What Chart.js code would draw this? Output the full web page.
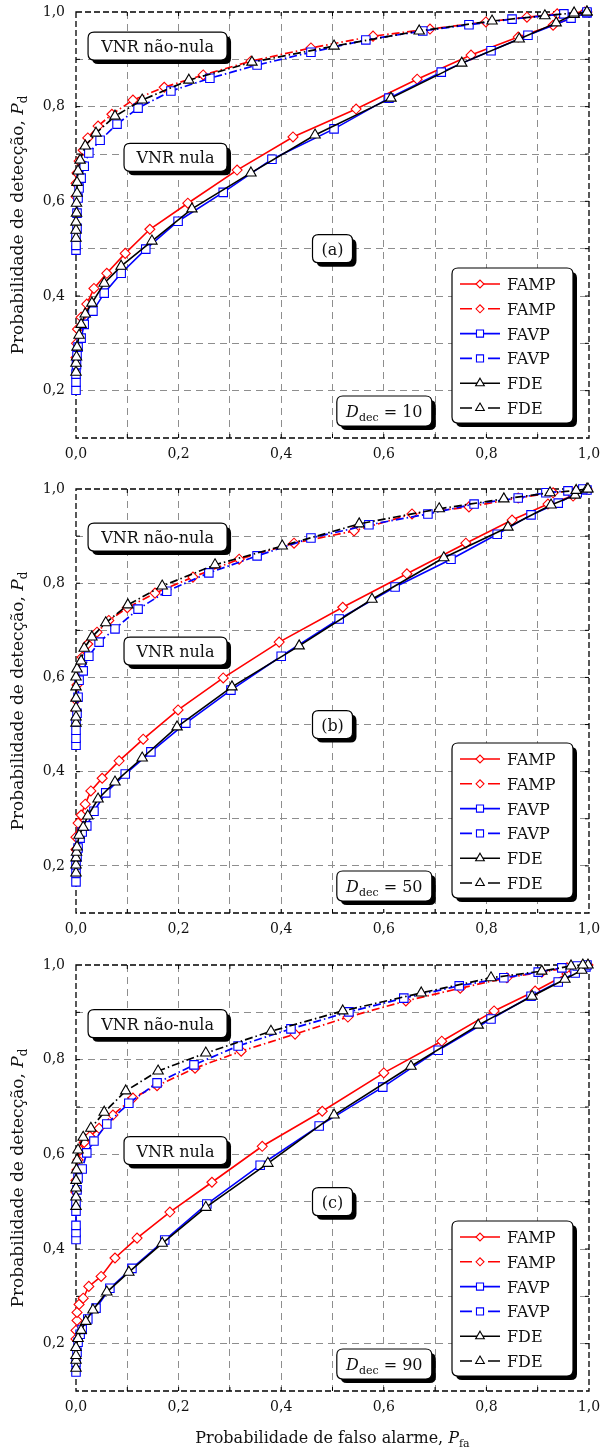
<!DOCTYPE html>
<html>
<head>
<meta charset="utf-8">
<script src="https://cdn.jsdelivr.net/npm/chart.js@4.4.0/dist/chart.umd.min.js"></script>
<style>
  html, body { margin: 0; padding: 0; background: #fff; }
  #wrap { position: relative; width: 602px; height: 1449px; }
  #wrap canvas { position: absolute; left: 0; }
</style>
</head>
<body>
<div id="wrap">
  <canvas id="ca" width="602" height="476" style="top:0px"></canvas>
  <canvas id="cb" width="602" height="476" style="top:476px"></canvas>
  <canvas id="cc" width="602" height="497" style="top:952px"></canvas>
</div>
<script>
// ---- data: [Pfa, Pd] pares ----
// (a) D_dec = 10
const A_FAMP_NULA = [[0,0.27],[0.001,0.30],[0.003,0.33],[0.010,0.355],[0.021,0.383],[0.035,0.416],[0.060,0.448],[0.096,0.490],[0.144,0.541],[0.218,0.596],[0.314,0.666],[0.423,0.736],[0.546,0.795],[0.665,0.858],[0.770,0.909],[0.862,0.947],[0.930,0.972],[0.996,1.0]];
const A_FAMP_NNULA = [[0,0.61],[0,0.638],[0.002,0.660],[0.006,0.685],[0.014,0.708],[0.023,0.734],[0.043,0.759],[0.070,0.784],[0.111,0.814],[0.172,0.841],[0.248,0.867],[0.341,0.896],[0.458,0.924],[0.579,0.949],[0.690,0.964],[0.799,0.979],[0.879,0.989],[0.938,0.996],[0.992,1.0]];
const A_FAVP_NULA = [[0,0.201],[0,0.218],[0,0.235],[0.001,0.255],[0.002,0.275],[0.004,0.292],[0.010,0.311],[0.016,0.340],[0.033,0.368],[0.055,0.406],[0.088,0.448],[0.136,0.499],[0.199,0.558],[0.287,0.619],[0.382,0.689],[0.503,0.753],[0.610,0.818],[0.712,0.873],[0.809,0.918],[0.881,0.951],[0.965,0.987],[0.996,0.998]];
const A_FAVP_NNULA = [[0,0.497],[0,0.507],[0,0.524],[0.002,0.543],[0.002,0.575],[0.004,0.607],[0.006,0.628],[0.010,0.649],[0.016,0.674],[0.025,0.702],[0.047,0.729],[0.080,0.763],[0.121,0.797],[0.185,0.833],[0.261,0.860],[0.353,0.888],[0.458,0.915],[0.565,0.941],[0.676,0.960],[0.766,0.973],[0.850,0.985],[0.951,0.996],[0.996,1.0]];
const A_FDE_NULA = [[0,0.239],[0,0.258],[0.001,0.271],[0.002,0.292],[0.006,0.317],[0.010,0.340],[0.018,0.362],[0.031,0.385],[0.055,0.427],[0.088,0.463],[0.148,0.516],[0.226,0.584],[0.341,0.660],[0.466,0.740],[0.614,0.818],[0.752,0.892],[0.864,0.943],[0.936,0.977],[0.971,0.995],[0.996,1.0]];
const A_FDE_NNULA = [[0,0.522],[0,0.539],[0,0.556],[0.001,0.575],[0.001,0.596],[0.002,0.617],[0.002,0.640],[0.004,0.664],[0.008,0.687],[0.018,0.717],[0.039,0.744],[0.076,0.780],[0.129,0.814],[0.220,0.856],[0.343,0.894],[0.503,0.928],[0.669,0.960],[0.811,0.981],[0.914,0.992],[0.971,0.998],[0.996,1.0]];

// (b) D_dec = 50
const B_FAMP_NULA = [[0,0.235],[0,0.261],[0.004,0.291],[0.010,0.308],[0.018,0.331],[0.029,0.359],[0.051,0.386],[0.084,0.423],[0.131,0.469],[0.199,0.531],[0.287,0.599],[0.396,0.675],[0.520,0.749],[0.645,0.820],[0.760,0.885],[0.850,0.934],[0.920,0.968],[0.969,0.985],[0.996,1.0]];
const B_FAMP_NNULA = [[0,0.530],[0,0.552],[0.002,0.584],[0.006,0.616],[0.012,0.643],[0.023,0.671],[0.041,0.696],[0.064,0.721],[0.100,0.748],[0.154,0.779],[0.228,0.813],[0.318,0.851],[0.425,0.885],[0.542,0.911],[0.655,0.947],[0.766,0.962],[0.862,0.981],[0.930,0.992],[0.975,0.997],[0.995,1.0]];
const B_FAVP_NULA = [[0,0.166],[0,0.185],[0,0.202],[0.002,0.219],[0.004,0.238],[0.008,0.259],[0.012,0.272],[0.021,0.285],[0.035,0.316],[0.058,0.355],[0.096,0.395],[0.146,0.442],[0.214,0.503],[0.302,0.573],[0.400,0.645],[0.513,0.724],[0.622,0.792],[0.731,0.851],[0.821,0.904],[0.887,0.945],[0.940,0.970],[0.977,0.992],[0.996,0.998]];
const B_FAVP_NNULA = [[0,0.456],[0,0.471],[0,0.488],[0,0.505],[0.002,0.524],[0.004,0.558],[0.006,0.594],[0.014,0.614],[0.025,0.645],[0.045,0.675],[0.076,0.703],[0.121,0.745],[0.177,0.783],[0.259,0.822],[0.353,0.858],[0.458,0.896],[0.571,0.924],[0.686,0.947],[0.776,0.968],[0.862,0.981],[0.916,0.992],[0.959,0.996],[0.988,1.0]];
const B_FDE_NULA = [[0,0.185],[0,0.202],[0,0.217],[0.001,0.229],[0.002,0.240],[0.006,0.265],[0.014,0.282],[0.023,0.306],[0.043,0.342],[0.076,0.378],[0.129,0.429],[0.197,0.495],[0.304,0.580],[0.435,0.667],[0.577,0.766],[0.717,0.854],[0.842,0.919],[0.926,0.966],[0.973,0.987],[0.996,1.0]];
const B_FDE_NNULA = [[0,0.503],[0,0.516],[0,0.535],[0,0.556],[0,0.580],[0,0.601],[0.002,0.618],[0.010,0.635],[0.016,0.662],[0.031,0.686],[0.058,0.716],[0.101,0.754],[0.168,0.794],[0.271,0.839],[0.402,0.879],[0.552,0.926],[0.708,0.958],[0.834,0.979],[0.924,0.992],[0.975,0.997],[0.998,1.0]];

// (c) D_dec = 90
const C_FAMP_NULA = [[0,0.210],[0,0.228],[0.002,0.249],[0.002,0.266],[0.006,0.283],[0.014,0.296],[0.025,0.321],[0.049,0.342],[0.076,0.381],[0.119,0.423],[0.183,0.478],[0.265,0.541],[0.363,0.617],[0.480,0.691],[0.600,0.772],[0.713,0.839],[0.815,0.903],[0.895,0.945],[0.957,0.981],[0.986,0.994],[0.998,1.0]];
const C_FAMP_NNULA = [[0,0.520],[0,0.545],[0.002,0.567],[0.004,0.588],[0.008,0.609],[0.016,0.625],[0.027,0.638],[0.045,0.655],[0.072,0.683],[0.111,0.719],[0.158,0.745],[0.232,0.782],[0.322,0.818],[0.427,0.854],[0.530,0.890],[0.643,0.924],[0.749,0.951],[0.840,0.973],[0.908,0.985],[0.957,0.994],[0.986,0.998]];
const C_FAVP_NULA = [[0,0.140],[0,0.161],[0.002,0.182],[0.004,0.203],[0.008,0.220],[0.012,0.230],[0.023,0.252],[0.039,0.275],[0.066,0.317],[0.109,0.359],[0.173,0.419],[0.255,0.495],[0.359,0.577],[0.474,0.660],[0.598,0.742],[0.706,0.820],[0.809,0.886],[0.887,0.934],[0.940,0.964],[0.973,0.983],[0.994,0.996]];
const C_FAVP_NNULA = [[0,0.420],[0,0.435],[0,0.450],[0,0.480],[0,0.500],[0.002,0.525],[0.004,0.550],[0.012,0.569],[0.021,0.603],[0.035,0.628],[0.060,0.664],[0.103,0.708],[0.158,0.751],[0.230,0.789],[0.316,0.829],[0.419,0.865],[0.532,0.901],[0.639,0.930],[0.747,0.956],[0.834,0.973],[0.901,0.985],[0.947,0.994],[0.977,0.998],[0.996,1.0]];
const C_FDE_NULA = [[0,0.148],[0,0.165],[0,0.175],[0,0.192],[0.004,0.211],[0.010,0.228],[0.019,0.247],[0.033,0.271],[0.060,0.309],[0.103,0.351],[0.168,0.412],[0.253,0.488],[0.374,0.581],[0.503,0.683],[0.653,0.786],[0.784,0.873],[0.889,0.934],[0.953,0.970],[0.986,0.989],[0.998,1.0]];
const C_FDE_NNULA = [[0,0.490],[0,0.510],[0,0.529],[0,0.545],[0.001,0.567],[0.002,0.588],[0.004,0.609],[0.014,0.636],[0.029,0.655],[0.055,0.689],[0.097,0.734],[0.160,0.776],[0.253,0.814],[0.380,0.860],[0.520,0.903],[0.673,0.941],[0.809,0.973],[0.908,0.987],[0.965,0.998],[0.988,1.0]];

const SERIES_LABELS = ['FAMP', 'FAMP', 'FAVP', 'FAVP', 'FDE', 'FDE'];
const PANEL_TAGS = ['(a)', '(b)', '(c)'];
const DDEC_VALUES = ['10', '50', '90'];
const X_TICKS = [0, 0.2, 0.4, 0.6, 0.8, 1.0];
const Y_TICKS = [0.2, 0.4, 0.6, 0.8, 1.0];

// ---- estilos ----
const FONT = "'DejaVu Serif', serif";
const ROM = s => s + 'px ' + FONT;
const ITA = s => 'italic ' + s + 'px ' + FONT;
const COLORS = ['#ff0000', '#ff0000', '#0000ff', '#0000ff', '#000000', '#000000'];
const MARKERS = ['rectRot', 'rectRot', 'rect', 'rect', 'triangle', 'triangle'];
const RADII = { rectRot: 5, rect: 6, triangle: 6 };
const DASHED = [false, true, false, true, false, true];
const DASH = [8, 3, 1.5, 3];

function drawRich(ctx, parts, cx, base) {
  let total = 0;
  parts.forEach(p => { ctx.font = p.f; p.w = ctx.measureText(p.t).width; total += p.w; });
  let x = cx - total / 2;
  ctx.textAlign = 'left';
  ctx.textBaseline = 'alphabetic';
  parts.forEach(p => { ctx.font = p.f; ctx.fillText(p.t, x, base + (p.dy || 0)); x += p.w; });
}

function roundPath(ctx, x, y, w, h, r) {
  ctx.beginPath();
  ctx.moveTo(x + r, y);
  ctx.lineTo(x + w - r, y); ctx.quadraticCurveTo(x + w, y, x + w, y + r);
  ctx.lineTo(x + w, y + h - r); ctx.quadraticCurveTo(x + w, y + h, x + w - r, y + h);
  ctx.lineTo(x + r, y + h); ctx.quadraticCurveTo(x, y + h, x, y + h - r);
  ctx.lineTo(x, y + r); ctx.quadraticCurveTo(x, y, x + r, y);
  ctx.closePath();
}

function shadowBox(ctx, x, y, w, h) {
  ctx.save();
  ctx.setLineDash([]);
  ctx.fillStyle = '#000';
  roundPath(ctx, x + 4, y + 4, w, h, 6); ctx.fill();
  ctx.fillStyle = '#fff';
  roundPath(ctx, x, y, w, h, 6); ctx.fill();
  ctx.strokeStyle = '#000'; ctx.lineWidth = 1.2; ctx.stroke();
  ctx.restore();
}

// moldura tracejada + marcas internas
const framePlugin = {
  id: 'frame',
  beforeDatasetsDraw(chart) {
    const { ctx, chartArea: a, scales: { x, y } } = chart;
    ctx.save();
    ctx.strokeStyle = '#000';
    ctx.lineWidth = 1.3;
    ctx.setLineDash([6, 3]);
    ctx.strokeRect(a.left, a.top, a.right - a.left, a.bottom - a.top);
    ctx.setLineDash([]);
    ctx.lineWidth = 1;
    ctx.beginPath();
    for (let k = 1; k < 10; k++) {
      const px = x.getPixelForValue(k / 10);
      ctx.moveTo(px, a.bottom); ctx.lineTo(px, a.bottom - 4);
      ctx.moveTo(px, a.top); ctx.lineTo(px, a.top + 4);
    }
    for (let k = 2; k < 10; k++) {
      const py = y.getPixelForValue(k / 10);
      ctx.moveTo(a.left, py); ctx.lineTo(a.left + 4, py);
      ctx.moveTo(a.right, py); ctx.lineTo(a.right - 4, py);
    }
    ctx.stroke();
    ctx.restore();
  }
};

// títulos, caixas de anotação e legenda
const notesPlugin = {
  id: 'notes',
  afterDraw(chart, args, opts) {
    const { ctx, chartArea: a, scales: { x, y } } = chart;
    ctx.save();
    ctx.fillStyle = '#111';

    // título do eixo y
    ctx.save();
    ctx.translate(17, (a.top + a.bottom) / 2);
    ctx.rotate(-Math.PI / 2);
    drawRich(ctx, [
      { t: 'Probabilidade de detecção, ', f: ROM(17) },
      { t: 'P', f: ITA(17) },
      { t: 'd', f: ROM(12), dy: 4 }
    ], 0, 6);
    ctx.restore();

    if (opts.xTitle) {
      drawRich(ctx, [
        { t: 'Probabilidade de falso alarme, ', f: ROM(16) },
        { t: 'P', f: ITA(16) },
        { t: 'fa', f: ROM(11), dy: 4 }
      ], (a.left + a.right) / 2, a.bottom + 52);
    }

    const box = (cx, cy, w, h, parts) => {
      shadowBox(ctx, cx - w / 2, cy - h / 2, w, h);
      ctx.fillStyle = '#111';
      drawRich(ctx, parts, cx, cy + 6);
    };

    box(x.getPixelForValue(0.159), y.getPixelForValue(opts.nn), 139, 28, [{ t: 'VNR não-nula', f: ROM(16) }]);
    box(x.getPixelForValue(0.194), y.getPixelForValue(opts.nu), 103, 28, [{ t: 'VNR nula', f: ROM(16) }]);
    box(x.getPixelForValue(0.5), y.getPixelForValue(0.5), 40, 28, [{ t: opts.tag, f: ROM(16) }]);
    box(x.getPixelForValue(0.601), a.bottom - 27, 95, 30, [
      { t: 'D', f: ITA(16) },
      { t: 'dec', f: ROM(11), dy: 4 },
      { t: ' = ' + opts.ddec, f: ROM(16) }
    ]);

    // legenda
    const lw = 121, lh = 155;
    const lx = a.right - 16 - lw, ly = a.bottom - 15 - lh;
    shadowBox(ctx, lx, ly, lw, lh);
    chart.data.datasets.forEach((ds, i) => {
      const ry = ly + 16 + i * 24.8;
      const x0 = lx + 8, x1 = lx + 48, xm = lx + 28;
      ctx.save();
      ctx.strokeStyle = ds.borderColor;
      ctx.lineWidth = 1.6;
      ctx.setLineDash([]);
      ctx.beginPath();
      if (DASHED[i]) {
        ctx.moveTo(x0, ry); ctx.lineTo(x0 + 12, ry);
        ctx.moveTo(x1 - 12, ry); ctx.lineTo(x1, ry);
      } else {
        ctx.moveTo(x0, ry); ctx.lineTo(x1, ry);
      }
      ctx.stroke();
      ctx.fillStyle = '#fff';
      ctx.lineWidth = 1.1;
      Chart.helpers.drawPoint(ctx, { pointStyle: ds.pointStyle, rotation: 0, radius: ds.pointRadius - 1, borderWidth: 1.1 }, xm, ry);
      ctx.restore();
      ctx.fillStyle = '#111';
      ctx.font = ROM(16);
      ctx.textAlign = 'left';
      ctx.textBaseline = 'alphabetic';
      ctx.fillText(ds.label, lx + 55, ry + 6);
    });
    ctx.restore();
  }
};

function lbl(v, list) {
  const hit = list.find(t => Math.abs(t - v) < 1e-6);
  return hit === undefined ? '' : hit.toFixed(1).replace('.', ',');
}

function gridColor(c) {
  const v = c.tick ? c.tick.value : 0;
  const scale = c.scale;
  if (Math.abs(v - scale.min) < 1e-6 || Math.abs(v - scale.max) < 1e-6) return 'rgba(0,0,0,0)';
  return '#8e8e8e';
}

function makeChart(id, sets, cfg) {
  const datasets = sets.map((pts, i) => ({
    label: SERIES_LABELS[i],
    data: pts.map(p => ({ x: p[0], y: p[1] })),
    borderColor: COLORS[i],
    borderWidth: DASHED[i] ? 1.7 : 1.6,
    borderDash: DASHED[i] ? DASH : [],
    pointStyle: MARKERS[i],
    pointRadius: RADII[MARKERS[i]],
    pointBackgroundColor: '#fff',
    pointBorderColor: COLORS[i],
    pointBorderWidth: 1.1,
    tension: 0,
    clip: false,
    order: 6 - i
  }));

  return new Chart(document.getElementById(id), {
    type: 'line',
    data: { datasets },
    options: {
      responsive: false,
      animation: false,
      layout: { padding: { left: 0, right: 13, top: cfg.padTop, bottom: 0 } },
      plugins: {
        legend: { display: false },
        tooltip: { enabled: false },
        notes: cfg
      },
      scales: {
        x: {
          type: 'linear', min: 0, max: 1,
          afterFit: s => { s.height = cfg.axisH; s.paddingLeft = 0; s.paddingRight = 0; },
          ticks: {
            stepSize: 0.1, autoSkip: false, maxRotation: 0, padding: 8,
            color: '#111', font: { family: FONT, size: 14 },
            callback: v => lbl(v, X_TICKS)
          },
          grid: { color: gridColor, lineWidth: 1, drawTicks: false },
          border: { display: false, dash: [7, 5] }
        },
        y: {
          type: 'linear', min: 0.1, max: 1.0,
          afterFit: s => { s.width = 76; s.paddingTop = 0; s.paddingBottom = 0; },
          ticks: {
            stepSize: 0.1, autoSkip: false, padding: 11,
            color: '#111', font: { family: FONT, size: 14 },
            callback: v => lbl(v, Y_TICKS)
          },
          grid: { color: gridColor, lineWidth: 1, drawTicks: false },
          border: { display: false, dash: [7, 5] }
        }
      }
    },
    plugins: [framePlugin, notesPlugin]
  });
}

makeChart('ca', [A_FAMP_NULA, A_FAMP_NNULA, A_FAVP_NULA, A_FAVP_NNULA, A_FDE_NULA, A_FDE_NNULA],
  { padTop: 12, axisH: 38, tag: PANEL_TAGS[0], ddec: DDEC_VALUES[0], nn: 0.928, nu: 0.693, xTitle: false });
makeChart('cb', [B_FAMP_NULA, B_FAMP_NNULA, B_FAVP_NULA, B_FAVP_NNULA, B_FDE_NULA, B_FDE_NNULA],
  { padTop: 13, axisH: 39, tag: PANEL_TAGS[1], ddec: DDEC_VALUES[1], nn: 0.898, nu: 0.656, xTitle: false });
makeChart('cc', [C_FAMP_NULA, C_FAMP_NNULA, C_FAVP_NULA, C_FAVP_NNULA, C_FDE_NULA, C_FDE_NNULA],
  { padTop: 13, axisH: 58, tag: PANEL_TAGS[2], ddec: DDEC_VALUES[2], nn: 0.876, nu: 0.608, xTitle: true });
</script>
</body>
</html>
